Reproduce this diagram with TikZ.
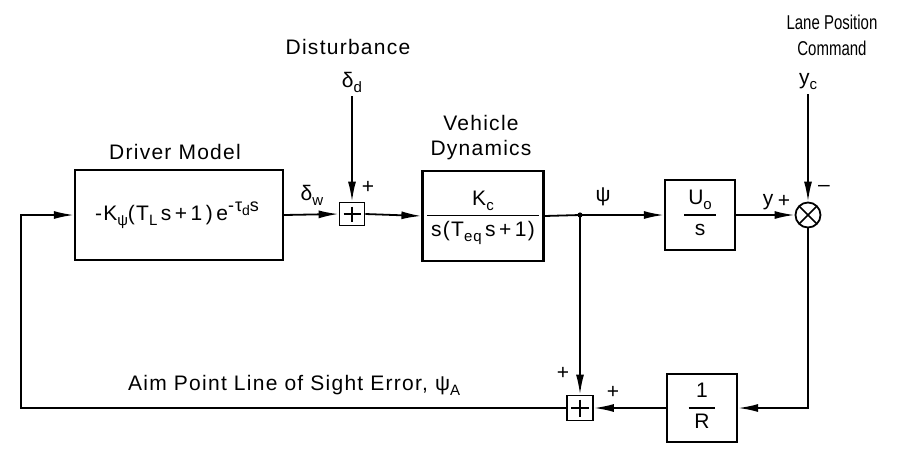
\documentclass[tikz,border=0pt]{standalone}
\usepackage{fontspec}
\setmainfont{Liberation Sans}[LetterSpace=6]
\newfontfamily\narrowfont{Liberation Sans}[FakeStretch=0.75]
\usetikzlibrary{arrows.meta,calc}
\setlength{\arrayrulewidth}{1.6pt}
\newcommand{\myfr}[2]{\begin{tabular}{@{\hspace{4pt}}c@{\hspace{4pt}}}#1\\[2pt]\hline\rule{0pt}{20pt}#2\end{tabular}}
\newcommand{\mysub}[1]{\raisebox{-5pt}{\fontsize{15}{17}\selectfont #1}}
\begin{document}
\begin{tikzpicture}[x=1pt,y=-1pt,
  every node/.style={font=\fontsize{21}{25}\selectfont},
  blk/.style={draw,line width=2.2pt,inner sep=0pt},
  sumbox/.style={draw,line width=1.8pt,minimum width=25pt,minimum height=23pt,inner sep=0pt,
    path picture={\draw[line width=1.4pt] ([xshift=4pt]path picture bounding box.west) -- ([xshift=-4pt]path picture bounding box.east);
                  \draw[line width=1.4pt] ([yshift=-4pt]path picture bounding box.north) -- ([yshift=4pt]path picture bounding box.south);}},
  xsum/.style={draw,circle,line width=1.8pt,minimum size=25pt,inner sep=0pt,
    path picture={\draw[line width=1.6pt] (path picture bounding box.north west) -- (path picture bounding box.south east);
                  \draw[line width=1.6pt] (path picture bounding box.north east) -- (path picture bounding box.south west);}},
  lbl/.style={inner sep=0pt},
  conn/.style={line width=1.8pt},
  arr/.style={conn,-{Latex[length=20pt,width=8pt]}}]
\useasboundingbox (0,0) rectangle (898,448);

% blocks
\node[blk,minimum width=208pt,minimum height=90pt] (drv) at (179,215)
  {\hspace*{-4pt}-K\mysub{ψ}(T\mysub{L}\,s\,+\,1\,)\,e\raisebox{9pt}{\fontsize{18}{20}\selectfont -τ\raisebox{-4pt}{\fontsize{14}{16}\selectfont d}s}};
\node[sumbox] (s1) at (352,214) {};
\node[blk,minimum width=121pt,minimum height=90pt] (veh) at (483,216)
  {\myfr{K\mysub{c}}{s(T\mysub{eq}\,s\,+\,1)}};
\coordinate (j) at (580,215);
\node[blk,minimum width=70pt,minimum height=70pt] (u0) at (700,215)
  {\myfr{U\mysub{o}}{s}};
\node[xsum] (c) at (808,215) {};
\node[blk,minimum width=70pt,minimum height=68pt] (rr) at (702,408)
  {\myfr{\,1\,}{R}};
\node[sumbox,minimum width=26pt,minimum height=25pt] (s2) at (580,408) {};
\coordinate (lx) at (21,215);

% labels
\node[lbl] (dm) at (175,152) {Driver Model};
\node[lbl] (dist) at (348,47) {Disturbance};
\node[lbl] (dd) at (352,82) {δ\mysub{d}};
\node[lbl] (p1) at (368,187) {+};
\node[lbl] (dw) at (312,195) {δ\mysub{w}};
\node[lbl,align=center] (vd) at (481,138) {Vehicle\\Dynamics};
\node[lbl] (psi) at (603,197) {ψ};
\node[lbl] (ylab) at (768,202) {y};
\node[lbl] (p2) at (784,201) {+};
\node[lbl] (m1) at (824,188) {–};
\node[lbl,align=center,font=\narrowfont\fontsize{20}{26}\selectfont] (lpc) at (832,35) {Lane Position\\Command};
\node[lbl] (yc) at (808,82) {y\mysub{c}};
\node[lbl] (p3) at (563,373) {+};
\node[lbl] (p4) at (613,392) {+};
\node[lbl,anchor=west] (aim) at (128,385) {Aim Point Line of Sight Error, ψ\mysub{A}};

% connectors
\draw[arr] (s1.north |- dd.south) ++(0,4) -- (s1.north);
\draw[arr] (drv.east) -- (s1.west);
\draw[arr] (s1.east) -- (veh.west);
\draw[conn] (veh.east) -- (j);
\fill (j) circle[radius=2.6pt];
\draw[arr] (j) -- (u0.west);
\draw[arr] (u0.east) -- (c.west);
\draw[arr] (c.north |- yc.south) ++(0,4) -- (c.north);
\draw[arr] (c.south) |- (rr.east);
\draw[arr] (rr.west) -- (s2.east);
\draw[arr] (j) -- (s2.north);
\draw[arr] (s2.west) -| (lx) -- (drv.west);
\end{tikzpicture}
\end{document}
